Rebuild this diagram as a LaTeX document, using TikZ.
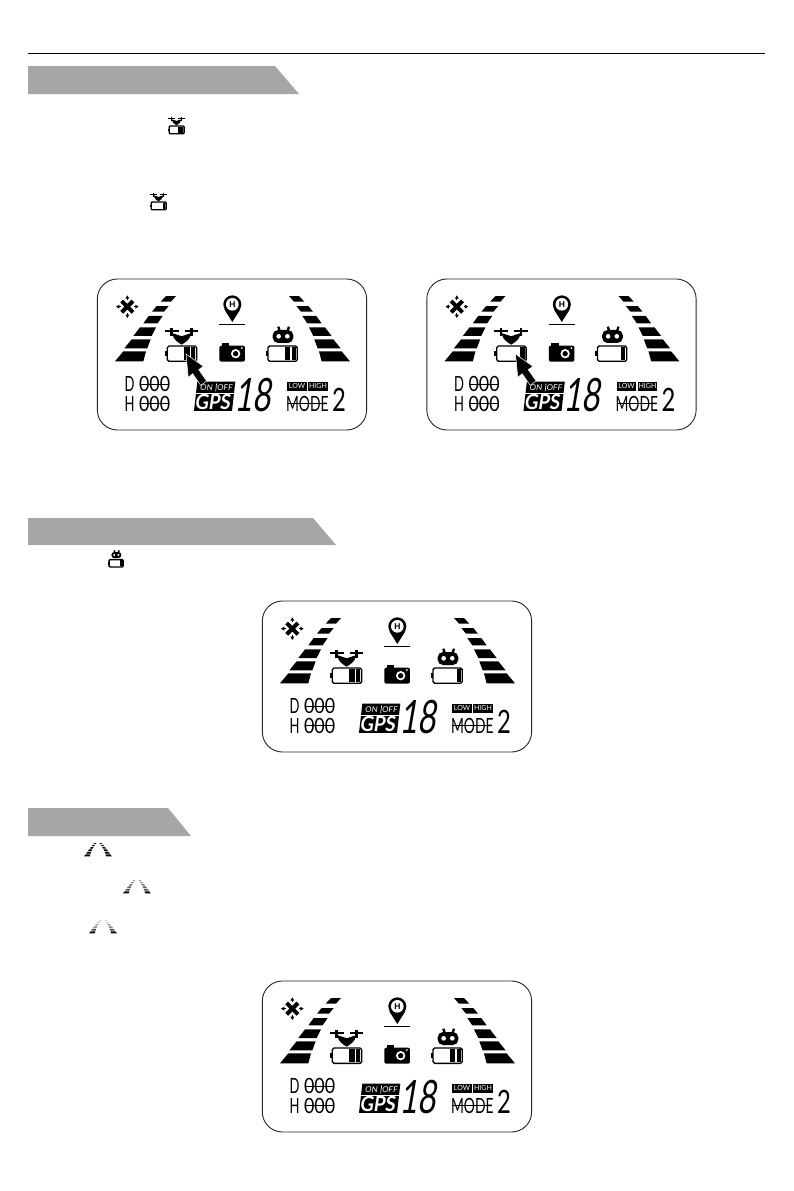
\documentclass[tikz,border=0pt]{standalone}
\usepackage{fontspec}
\setmainfont{Liberation Sans}
\newfontfamily\lcdreg{Lato}
\definecolor{bannergrey}{HTML}{A7A5A5}
\tikzset{
  banner/.style={fill=bannergrey,draw=none},
  lcdtxt/.style={inner sep=0pt,text=black},
  lcdrev/.style={inner sep=0pt,text=white},
  panelbox/.style={draw=black!85,line width=0.9pt,fill=white}
}
\def\uu{0.3333}
\colorlet{la}{black}\colorlet{lb}{black}\colorlet{lc}{black}\colorlet{ld}{black}\colorlet{le}{black}\colorlet{lf}{black}
\newcommand{\DroneBody}{%
  \draw[line width=8*\uu pt] (225,183)--(266,183) (284,183)--(325,183);
  \draw[line width=7*\uu pt] (245,175)--(245,198) (305,175)--(305,198);
  \draw[line width=6*\uu pt] (245,192)--(275,202)--(305,192);
  \fill (248,194) .. controls (265,201) and (285,201) .. (302,194) .. controls (300,208) and (288,216) .. (275,224) .. controls (262,216) and (250,208) .. (248,194) -- cycle;
}
\newcommand{\Batt}[3]{% x offset, bars, border
  \begin{scope}[shift={(#1,0)}]
  \draw[line width=#3*\uu pt,rounded corners=5*\uu pt,fill=white] (232,228) rectangle (320,274);
  \fill (225,243) rectangle (232,259);
  \ifnum#2>1 \fill (282,232) rectangle (299,270); \fi
  \fill (303,232) rectangle (316,270);
  \end{scope}
}
\newcommand{\RobotBody}{%
  \draw[line width=7*\uu pt] (565,170)--(570,186) (597,170)--(592,186);
  \fill[rounded corners=16*\uu pt] (548,180) rectangle (610,219);
  \fill[white] (566,199) circle [radius=7];
  \fill[white] (592,199) circle [radius=7];
}
\newcommand{\LaneLeft}{%
  \fill[la] (75,274)--(160,274)--(168,244)--(100,244)--cycle;
  \fill[lb] (103,235)--(172,235)--(182,208)--(125,208)--cycle;
  \fill[lc] (130,198)--(185,198)--(198,172)--(150,172)--cycle;
  \fill[ld] (160,160)--(203,160)--(218,138)--(176,138)--cycle;
  \fill[le] (186,125)--(222,125)--(236,108)--(200,108)--cycle;
  \fill[lf] (212,95)--(243,95)--(258,78)--(228,78)--cycle;
}
\newcommand{\LCD}[5]{% prefix, ox, oy, drone+robot bars, arrow
\begin{scope}[shift={(#2,#3)},x=\uu pt,y=-\uu pt]
  \draw[panelbox,rounded corners=20pt] (22,27) rectangle (830,480);
  % star
  \draw[line width=12*\uu pt] (95,93)--(129,127) (95,127)--(129,93);
  \draw[line width=2.5*\uu pt] (112,84)--(112,90) (112,130)--(112,136) (86,110)--(92,110) (132,110)--(138,110);
  \fill (112,76)--(118,86)--(106,86)--cycle;
  \fill (112,144)--(118,134)--(106,134)--cycle;
  \fill (78,110)--(88,104)--(88,116)--cycle;
  \fill (146,110)--(136,104)--(136,116)--cycle;
  % lanes
  \LaneLeft
  \begin{scope}[shift={(855,0)},x=-\uu pt]\LaneLeft\end{scope}
  % pin
  \fill (427,156)--(403,118)--(451,118)--cycle;
  \fill (427,103) circle [radius=27];
  \fill[white] (427,103) circle [radius=19];
  \node[inner sep=0pt,font=\bfseries\fontsize{8.5}{8.5}\selectfont] (#1pin) at (427,103) {H};
  \draw[line width=4*\uu pt] (388,163)--(466,163);
  % drone + battery
  \DroneBody
  \Batt{0}{\ifnum#4>19 2\else 1\fi}{4}
  % camera
  \fill[rounded corners=6*\uu pt] (388,227) rectangle (465,275);
  \fill (396,218) rectangle (418,230);
  \fill[white] (437,251) circle [radius=14];
  \fill (437,251) circle [radius=8];
  \fill[white] (456,234) circle [radius=3];
  % robot + battery
  \RobotBody
  \Batt{302}{\ifnum\numexpr#4-(#4/10)*10\relax>1 2\else 1\fi}{4}
  % distance / height
  \node[lcdtxt,xscale=0.62,font=\lcdreg\fontsize{21}{21}\selectfont] (#1d) at (119,342) {D};
  \node[lcdtxt,xscale=0.85,font=\lcdreg\fontsize{21}{21}\selectfont] (#1dv) at (194,342) {000};
  \node[lcdtxt,xscale=0.62,font=\lcdreg\fontsize{21}{21}\selectfont] (#1h) at (119,401) {H};
  \node[lcdtxt,xscale=0.85,font=\lcdreg\fontsize{21}{21}\selectfont] (#1hv) at (194,401) {000};
  \draw[line width=0.7pt] (150,342)--(238,342) (150,401)--(238,401);
  % GPS block
  \fill (322,335)--(436,335)--(426,423)--(312,423)--cycle;
  \draw[white,line width=0.6pt] (316,369)--(434,369);
  \node[lcdrev,xslant=0.15,font=\lcdreg\fontsize{8}{8}\selectfont] (#1on) at (350,352) {ON};
  \node[lcdrev,xslant=0.15,font=\lcdreg\fontsize{8}{8}\selectfont] (#1off) at (405,352) {OFF};
  \draw[white,line width=0.6pt] (380,340)--(377,364);
  \node[lcdrev,xslant=0.15,xscale=0.98,yscale=1.1,font=\lcdreg\bfseries\fontsize{19}{19}\selectfont] (#1gps) at (370,397) {GPS};
  % 18
  \node[lcdtxt,xslant=0.17,xscale=0.68,font=\lcdreg\fontsize{46}{46}\selectfont] (#1num) at (495,374) {18};
  % low/high
  \fill (592,335) rectangle (651,362);
  \fill (655,335) rectangle (713,362);
  \node[lcdrev,font=\lcdreg\fontsize{7}{7}\selectfont] (#1low) at (621,349) {LOW};
  \node[lcdrev,font=\lcdreg\fontsize{7}{7}\selectfont] (#1high) at (684,349) {HIGH};
  \node[lcdtxt,xscale=0.66,font=\lcdreg\fontsize{21}{21}\selectfont] (#1mode) at (652,401) {MODE};
  \draw[line width=0.6pt] (592,401)--(712,401);
  \node[lcdtxt,xscale=0.85,yscale=1.15,font=\lcdreg\fontsize{28}{28}\selectfont] (#1two) at (747,391) {2};
  #5
\end{scope}}
\newcommand{\BigArrow}{%
  \draw[fill=black,draw=white,line width=0.5pt,line join=miter] (288,252)--(340,289)--(326,299)--(350,333)--(332,346)--(308,311)--(295,322)--cycle;
}
\newcommand{\DroneIcon}[3]{% x, y, bars
  \begin{scope}[shift={(#1,#2)},x=0.17pt,y=-0.17pt]
    \def\uu{0.19}
    \begin{scope}[shift={(-225,-175)}]
    \DroneBody
    \Batt{0}{#3}{7}
    \end{scope}
  \end{scope}}
\newcommand{\RobotIcon}[2]{%
  \begin{scope}[shift={(#1,#2)},x=0.16pt,y=-0.16pt]
    \def\uu{0.19}
    \begin{scope}[shift={(-527,-168)}]
    \RobotBody
    \Batt{302}{1}{7}
    \end{scope}
  \end{scope}}
\newcommand{\LaneIcon}[2]{% x left, y top
  \begin{scope}[shift={(#1,#2)},x=0.068pt,y=-0.068pt]
    \begin{scope}[shift={(-75,-78)}]\LaneLeft\end{scope}
    \begin{scope}[shift={(485,-78)},x=-0.068pt]\LaneLeft\end{scope}
  \end{scope}}
\begin{document}
\begin{tikzpicture}[x=1pt,y=-1pt]
\useasboundingbox (0,0) rectangle (794,1191);
\fill[white] (0,0) rectangle (794,1191);
\draw[line width=1pt] (28,53.5)--(765,53.5);
\fill[banner] (28,66)--(275,66)--(299,94)--(28,94)--cycle;
\fill[banner] (28,518)--(313,518)--(336,545)--(28,545)--cycle;
\fill[banner] (28,808)--(168,808)--(191,836)--(28,836)--cycle;
\DroneIcon{168}{117}{2}
\DroneIcon{150}{193}{1}
\RobotIcon{108}{550}
\LaneIcon{84}{843}
\begingroup
\colorlet{lb}{black!65}\colorlet{lc}{black!60}\colorlet{ld}{black!55}\colorlet{le}{black!50}\colorlet{lf}{black!40}
\LaneIcon{123}{880}
\colorlet{lb}{black!70}\colorlet{lc}{black!45}\colorlet{ld}{black!35}\colorlet{le}{black!25}\colorlet{lf}{black!18}
\LaneIcon{89}{920}
\endgroup
\LCD{a}{90}{270}{22}{\BigArrow}
\LCD{b}{419.5}{270}{11}{\BigArrow}
\LCD{c}{255}{592}{21}{}
\LCD{d}{255}{972}{22}{}
\end{tikzpicture}
\end{document}
